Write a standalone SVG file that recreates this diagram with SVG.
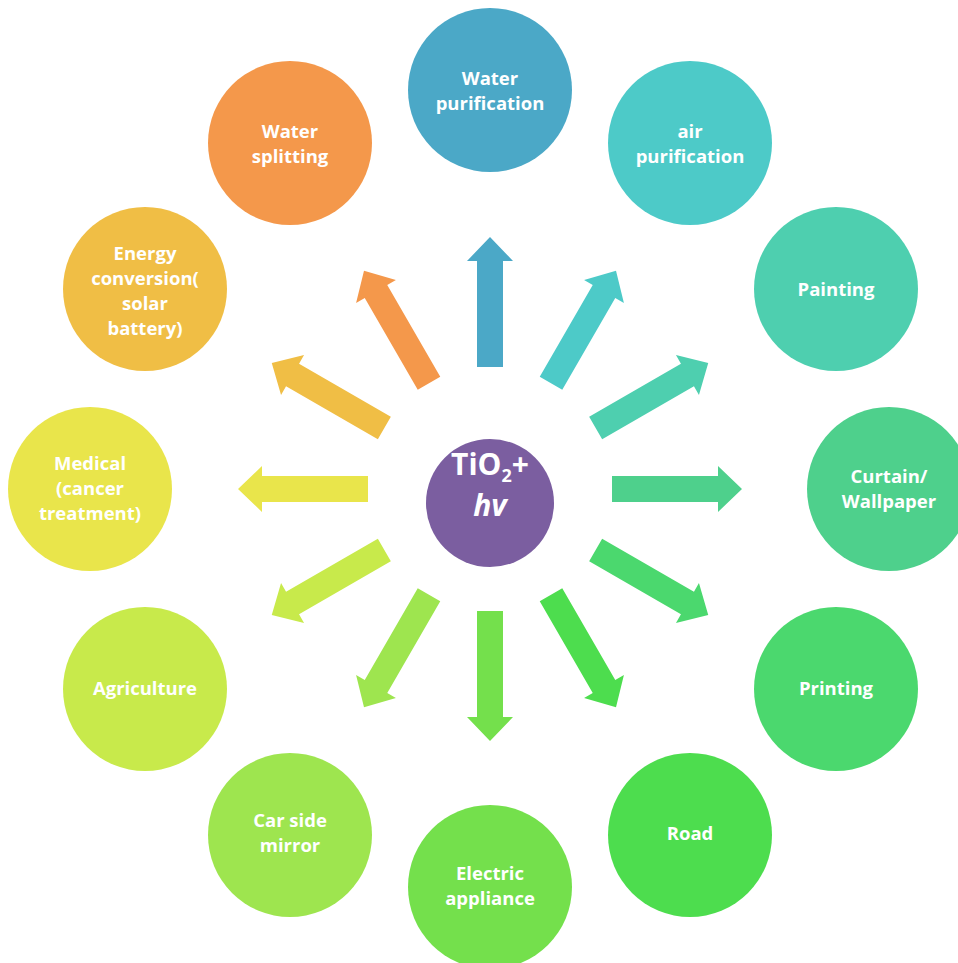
<svg xmlns="http://www.w3.org/2000/svg" width="958" height="963" viewBox="0 0 958 963">
  <style>
    .lbl { font-family: "Open Sans", "Liberation Sans", sans-serif; font-weight: bold; font-size: 18.5px; fill: #ffffff; text-anchor: middle; }
    .ctr { font-family: "Open Sans", "Liberation Sans", sans-serif; font-weight: bold; font-size: 30px; fill: #ffffff; text-anchor: middle; }
  </style>
  <defs>
    <path id="arr" d="M122,-13 L228,-13 L228,-23 L252,0 L228,23 L228,13 L122,13 Z"/>
  </defs>
  <rect width="958" height="963" fill="#ffffff"/>

  <g id="connectors">
    <use href="#arr" transform="translate(490,489) rotate(-90)" fill="#4BA8C7"/>
    <use href="#arr" transform="translate(490,489) rotate(-60)" fill="#4DCAC8"/>
    <use href="#arr" transform="translate(490,489) rotate(-30)" fill="#4ECFAF"/>
    <use href="#arr" transform="translate(490,489) rotate(0)" fill="#4ED08C"/>
    <use href="#arr" transform="translate(490,489) rotate(30)" fill="#4BD86E"/>
    <use href="#arr" transform="translate(490,489) rotate(60)" fill="#4DDD4E"/>
    <use href="#arr" transform="translate(490,489) rotate(90)" fill="#74E04C"/>
    <use href="#arr" transform="translate(490,489) rotate(120)" fill="#9EE54F"/>
    <use href="#arr" transform="translate(490,489) rotate(150)" fill="#C8EA4B"/>
    <use href="#arr" transform="translate(490,489) rotate(180)" fill="#E9E54B"/>
    <use href="#arr" transform="translate(490,489) rotate(210)" fill="#F0BE45"/>
    <use href="#arr" transform="translate(490,489) rotate(240)" fill="#F4984B"/>
  </g>

  <g id="center">
    <circle cx="490" cy="503" r="64" fill="#7B5EA0"/>
    <text class="ctr" x="490" y="475">TiO<tspan font-size="18" dy="7">2</tspan><tspan dy="-7">+</tspan></text>
    <text class="ctr" x="490" y="516" font-style="italic">hv</text>
  </g>

  <g id="water-purification">
    <circle cx="490" cy="90" r="82" fill="#4BA8C7"/>
    <text class="lbl" x="490" y="85">Water</text>
    <text class="lbl" x="490" y="110">purification</text>
  </g>
  <g id="air-purification">
    <circle cx="690" cy="143" r="82" fill="#4DCAC8"/>
    <text class="lbl" x="690" y="138">air</text>
    <text class="lbl" x="690" y="163">purification</text>
  </g>
  <g id="painting">
    <circle cx="836" cy="289" r="82" fill="#4ECFAF"/>
    <text class="lbl" x="836" y="296">Painting</text>
  </g>
  <g id="curtain">
    <circle cx="889" cy="489" r="82" fill="#4ED08C"/>
    <text class="lbl" x="889" y="483">Curtain/</text>
    <text class="lbl" x="889" y="508">Wallpaper</text>
  </g>
  <g id="printing">
    <circle cx="836" cy="689" r="82" fill="#4BD86E"/>
    <text class="lbl" x="836" y="695">Printing</text>
  </g>
  <g id="road">
    <circle cx="690" cy="835" r="82" fill="#4DDD4E"/>
    <text class="lbl" x="690" y="840">Road</text>
  </g>
  <g id="electric-appliance">
    <circle cx="490" cy="887" r="82" fill="#74E04C"/>
    <text class="lbl" x="490" y="880">Electric</text>
    <text class="lbl" x="490" y="905">appliance</text>
  </g>
  <g id="car-side-mirror">
    <circle cx="290" cy="835" r="82" fill="#9EE54F"/>
    <text class="lbl" x="290" y="827">Car side</text>
    <text class="lbl" x="290" y="852">mirror</text>
  </g>
  <g id="agriculture">
    <circle cx="145" cy="689" r="82" fill="#C8EA4B"/>
    <text class="lbl" x="145" y="695">Agriculture</text>
  </g>
  <g id="medical">
    <circle cx="90" cy="489" r="82" fill="#E9E54B"/>
    <text class="lbl" x="90" y="470">Medical</text>
    <text class="lbl" x="90" y="495">(cancer</text>
    <text class="lbl" x="90" y="520">treatment)</text>
  </g>
  <g id="energy-conversion">
    <circle cx="145" cy="289" r="82" fill="#F0BE45"/>
    <text class="lbl" x="145" y="260">Energy</text>
    <text class="lbl" x="145" y="285">conversion(</text>
    <text class="lbl" x="145" y="310">solar</text>
    <text class="lbl" x="145" y="335">battery)</text>
  </g>
  <g id="water-splitting">
    <circle cx="290" cy="143" r="82" fill="#F4984B"/>
    <text class="lbl" x="290" y="138">Water</text>
    <text class="lbl" x="290" y="163">splitting</text>
  </g>
</svg>
